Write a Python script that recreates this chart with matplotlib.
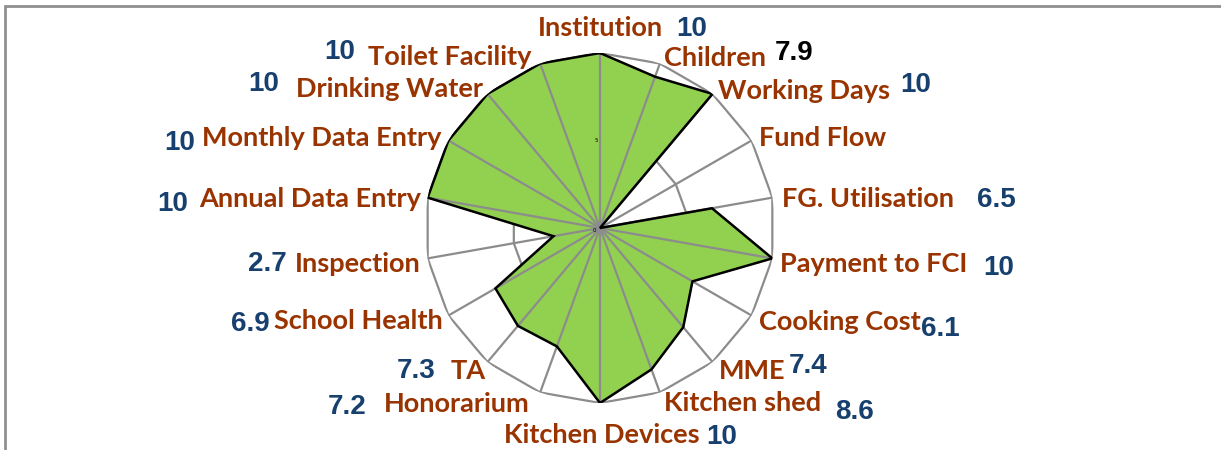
import numpy as np
import matplotlib
matplotlib.use("Agg")
import matplotlib.pyplot as plt
from matplotlib.patches import Rectangle

categories = [
    "Institution", "Children", "Working Days", "Fund Flow", "FG. Utilisation",
    "Payment to FCI", "Cooking Cost", "MME", "Kitchen shed", "Kitchen Devices",
    "Honorarium", "TA", "School Health", "Inspection", "Annual Data Entry",
    "Monthly Data Entry", "Drinking Water", "Toilet Facility",
]
# plotted values as drawn (Children vertex sits near 9.2 although its label says 7.9)
scores = [10, 9.2, 10, 0, 6.5, 10, 6.1, 7.4, 8.6, 10, 7.2, 7.3, 6.9, 2.7, 10, 10, 10, 10]
score_text = ["10", "7.9", "10", "", "6.5", "10", "6.1", "7.4", "8.6", "10",
              "7.2", "7.3", "6.9", "2.7", "10", "10", "10", "10"]
score_colors = ["#17406E", "black"] + ["#17406E"] * 16

# label placement in pixels (centre x, centre y)
label_pos = [(600, 28), (715, 58), (804, 91), (823, 138), (868, 199), (874, 264),
             (840, 322), (752, 371), (743, 403), (602, 435), (457, 404), (468, 371),
             (358, 321), (358, 264), (310, 199), (322, 138), (390, 89), (450, 57)]
value_pos = [(692, 29), (794, 53), (916, 85), None, (996, 200), (999, 268),
             (940, 329), (808, 366), (855, 412), (722, 437), (347, 407), (416, 371),
             (250, 324), (267, 264), (173, 204), (180, 143), (264, 84), (340, 52)]

W, H = 1221, 450
fig = plt.figure(figsize=(W / 100, H / 100), dpi=100)

cx, cy, rad = 600, 228, 175
ax = fig.add_axes([(cx - rad) / W, 1 - (cy + rad) / H, 2 * rad / W, 2 * rad / H],
                  projection="polar")
ax.set_theta_zero_location("N")
ax.set_theta_direction(-1)
ax.set_ylim(0, 10)
ax.grid(False)
ax.spines["polar"].set_visible(False)
ax.set_xticks([])
ax.set_yticks([])
ax.patch.set_alpha(0)

n = len(categories)
angles = np.linspace(0, 2 * np.pi, n, endpoint=False)
ang_c = np.append(angles, angles[0])
vals_c = np.append(scores, scores[0])

grid_col = "#8C8C8C"
# value gridlines sit under the fill, category spokes on top of it
for r in [5, 10]:
    ax.plot(ang_c, np.full(len(ang_c), r), color=grid_col, lw=1.6, zorder=0.5)

ax.fill(ang_c, vals_c, color="#92D050", zorder=1)

for a in angles:
    ax.plot([a, a], [0, 10], color=grid_col, lw=1.6, zorder=2)

ax.plot(ang_c, vals_c, color="black", lw=1.8, zorder=3, solid_joinstyle="miter")

ax.text(-0.02, 5, "5", fontsize=4, ha="right", va="center", zorder=4)
ax.text(-2.0, 0.35, "0", fontsize=4, ha="center", va="center", zorder=4)

for name, (x, y) in zip(categories, label_pos):
    fig.text(x / W, 1 - y / H, name, ha="center", va="center", fontsize=19.5,
             fontweight="bold", family="Lato", color="#993300")

for txt, col, p in zip(score_text, score_colors, value_pos):
    if p is None:
        continue
    fig.text(p[0] / W, 1 - p[1] / H, txt, ha="center", va="center", fontsize=20,
             fontweight="bold", family="Liberation Sans", color=col)

# chart frame, open to the right and bottom like the cropped original
fig.patches.append(Rectangle((5 / W, -0.1), 1.2, 1 - 6 / H + 0.1, transform=fig.transFigure,
                             fill=False, edgecolor="#8F8F8F", lw=2))

fig.savefig("out.png", dpi=100)
